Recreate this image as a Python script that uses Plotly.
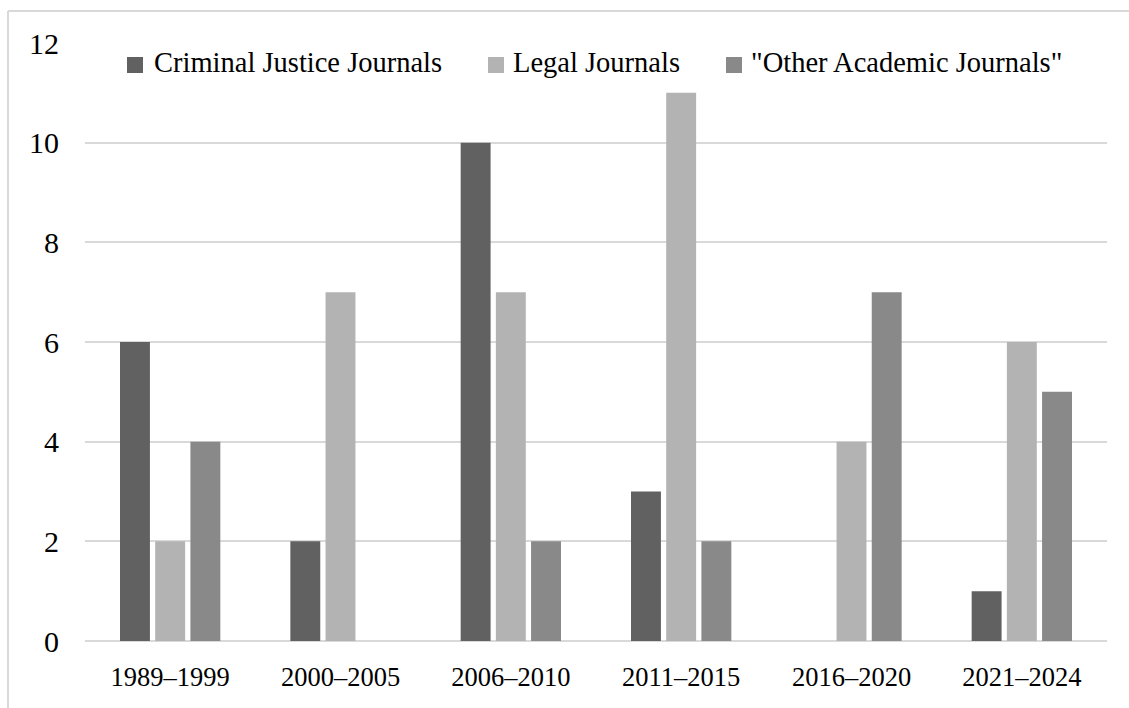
import plotly.graph_objects as go

periods = ["1989–1999", "2000–2005", "2006–2010", "2011–2015", "2016–2020", "2021–2024"]
criminal_justice = [6, 2, 10, 3, 0, 1]
legal = [2, 7, 7, 11, 4, 6]
other_academic = [4, 0, 2, 2, 7, 5]
series_names = ["Criminal Justice Journals", "Legal Journals", "\"Other Academic Journals\""]
series_colors = ["#616161", "#b3b3b3", "#898989"]

FONT = "Liberation Serif, Times New Roman, serif"
W, H = 1129, 708
ML, MR, MT, MB = 85, 22, 43, 67
PW, PH = W - ML - MR, H - MT - MB


def px_x(p):
    return (p - ML) / PW


def px_y(p):
    return 1 - (p - MT) / PH


fig = go.Figure()
for name, vals, col in zip(series_names, [criminal_justice, legal, other_academic], series_colors):
    fig.add_trace(go.Bar(x=periods, y=vals, name=name, showlegend=False,
                         marker=dict(color=col, line=dict(width=0))))

grid = "#d9d9d9"

# legend drawn manually (square + label) to match the reference spacing
legend_sq_x = [127, 488, 726]
legend_txt_x = [152, 511, 749]
legend_cy = 65
shapes = [
    dict(type="line", xref="paper", yref="paper",
         x0=px_x(8), x1=1.2, y0=px_y(11), y1=px_y(11),
         line=dict(color=grid, width=2)),
    dict(type="line", xref="paper", yref="paper",
         x0=px_x(8), x1=px_x(8), y0=px_y(11), y1=-0.3,
         line=dict(color=grid, width=2)),
]
annotations = []
for name, col, sx, tx in zip(series_names, series_colors, legend_sq_x, legend_txt_x):
    shapes.append(dict(type="rect", xref="paper", yref="paper",
                       x0=px_x(sx), x1=px_x(sx + 16),
                       y0=px_y(legend_cy - 8), y1=px_y(legend_cy + 8),
                       fillcolor=col, line=dict(width=0)))
    annotations.append(dict(text=name, xref="paper", yref="paper",
                            x=px_x(tx), y=px_y(legend_cy - 2), xanchor="left", yanchor="middle",
                            showarrow=False,
                            font=dict(family=FONT, size=28.5, color="#000000")))

fig.update_layout(
    width=W, height=H,
    margin=dict(l=ML, r=MR, t=MT, b=MB, pad=0),
    paper_bgcolor="white", plot_bgcolor="white",
    barmode="group", bargap=0.38, bargroupgap=0.15,
    font=dict(family=FONT, color="#000000"),
    showlegend=False,
    xaxis=dict(showgrid=False, showline=False, zeroline=False, ticks="",
               tickfont=dict(family=FONT, size=26.5), ticklabelstandoff=17),
    yaxis=dict(range=[0, 12], dtick=2, showgrid=True, gridcolor=grid, gridwidth=1.5,
               zeroline=True, zerolinecolor=grid, zerolinewidth=2, showline=False, ticks="",
               tickfont=dict(family=FONT, size=30), ticklabelstandoff=25),
    shapes=shapes,
    annotations=annotations,
)

fig.write_html("out.html")
